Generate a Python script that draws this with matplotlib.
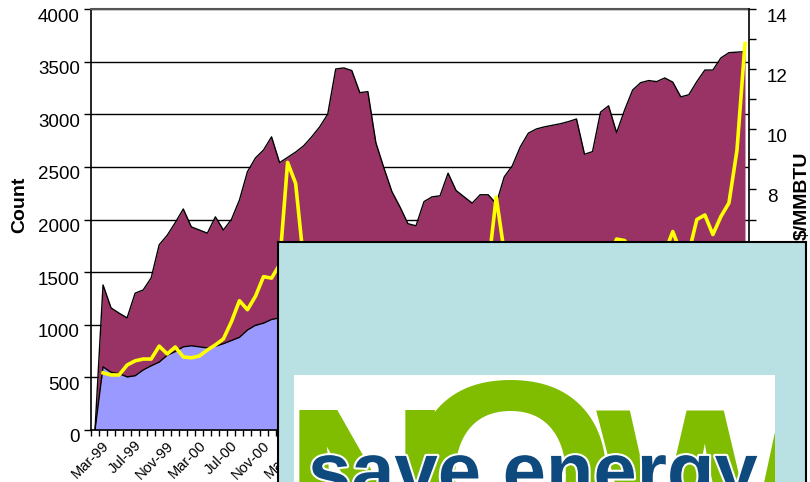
import numpy as np
import pandas as pd
import matplotlib.pyplot as plt
import matplotlib.transforms as mtransforms
import matplotlib.patheffects as pe

plt.rcParams['font.family'] = ['Liberation Sans', 'DejaVu Sans']

# monthly categories Dec-98 .. Sep-05
months = pd.date_range('1998-12-01', '2005-09-01', freq='MS').strftime('%b-%y').tolist()

# top of the stacked area (total count)
total_count = [0, 1378, 1160, 1110, 1065, 1300, 1330, 1445, 1760, 1850,
               1970, 2100, 1930, 1900, 1870, 2025, 1900, 2000, 2185, 2455,
               2585, 2660, 2785, 2540, 2590, 2640, 2700, 2785, 2880, 3000,
               3430, 3440, 3415, 3205, 3215, 2730, 2490, 2265, 2120, 1960,
               1940, 2170, 2215, 2225, 2440, 2275, 2215, 2155, 2235, 2235,
               2150, 2405, 2510, 2690, 2820, 2860, 2880, 2895, 2910, 2930,
               2955, 2620, 2645, 3020, 3080, 2825, 3040, 3230, 3300, 3320,
               3310, 3345, 3305, 3165, 3185, 3310, 3420, 3420, 3535, 3585,
               3590, 3595]

# lower (blue) series
lower_count = [0, 600, 548, 535, 505, 515, 570, 610, 645, 710,
               745, 790, 800, 790, 780, 795, 820, 850, 880, 950,
               995, 1015, 1050, 1065, 1075, 1085, 1090, 1110, 1120, 1135,
               1150, 1160, 1175, 1180, 1190, 1200, 1195, 1185, 1180, 1170,
               1165, 1175, 1180, 1195, 1205, 1210, 1225, 1230, 1245, 1250,
               1265, 1270, 1280, 1295, 1300, 1315, 1320, 1335, 1340, 1350,
               1365, 1370, 1380, 1395, 1400, 1410, 1425, 1430, 1445, 1450,
               1460, 1475, 1480, 1490, 1505, 1510, 1520, 1535, 1540, 1550,
               1560, 1570]

# gas price, $/MMBTU
price = [np.nan, 1.90, 1.83, 1.83, 2.16, 2.30, 2.36, 2.36, 2.79, 2.53,
         2.76, 2.43, 2.40, 2.46, 2.66, 2.83, 3.03, 3.60, 4.30, 4.00,
         4.45, 5.10, 5.05, 5.50, 8.90, 8.20, 5.60, 5.20, 5.20, 4.20,
         3.70, 3.10, 3.00, 2.20, 2.50, 2.30, 2.30, 2.30, 2.30, 3.00,
         3.40, 3.50, 3.30, 3.00, 3.10, 3.60, 4.10, 4.00, 4.70, 5.40,
         7.75, 5.90, 5.30, 5.80, 5.80, 5.00, 5.00, 4.60, 4.60, 4.50,
         6.00, 6.00, 5.40, 5.40, 5.70, 6.35, 6.30, 5.90, 5.40, 5.20,
         5.90, 5.90, 6.60, 5.90, 5.90, 7.00, 7.15, 6.50, 7.10, 7.55,
         9.30, 12.85]

W, H = 810, 482
fig = plt.figure(figsize=(8.1, 4.82), dpi=100)

ax = fig.add_axes([91 / W, 1 - 430 / H, 658 / W, 421 / H])
x = np.arange(len(months))
ax.fill_between(x, lower_count, total_count, color='#993366', lw=0)
ax.fill_between(x, 0, lower_count, color='#9999FF', lw=0)
ax.plot(x, total_count, color='black', lw=1)
ax.plot(x, lower_count, color='black', lw=1)
ax.set_xlim(-0.5, len(x) - 0.5)
ax.set_ylim(0, 4000)
ax.set_yticks(np.arange(0, 4001, 500))
ax.yaxis.grid(True, color='black', lw=1)
ax.set_axisbelow(True)

ax.set_xticks(x[3::4])
ax.set_xticklabels(months[3::4], rotation=45, ha='right', va='top', fontsize=10.5)
ax.set_xticks(np.arange(len(x) + 1) - 0.5, minor=True)
ax.tick_params(axis='x', which='major', length=0, pad=6)
ax.tick_params(axis='x', which='minor', length=4, width=1, direction='out')
ax.tick_params(axis='y', length=5, width=1, direction='out', labelsize=13.5, pad=3)

for s in ['left', 'bottom']:
    ax.spines[s].set_linewidth(1.2)
ax.spines['top'].set_color('#555555')
ax.spines['top'].set_linewidth(1.5)
ax.spines['right'].set_visible(False)

ax2 = ax.twinx()
ax2.plot(x, price, color='#FFFF00', lw=2.6)
ax2.set_ylim(0, 14)
ax2.set_yticks(np.arange(0, 15, 2))
ax2.set_yticks(np.arange(1, 14, 2), minor=True)
ax2.tick_params(axis='y', which='both', length=5, width=1, direction='out', labelsize=13.5, pad=8)
for s in ['left', 'top', 'bottom']:
    ax2.spines[s].set_visible(False)
ax2.spines['right'].set_linewidth(1.2)

# labels sit a little low / left of their ticks in the original
down = mtransforms.ScaledTranslation(0, -0.06, fig.dpi_scale_trans)
for lab in ax.get_yticklabels() + ax2.get_yticklabels():
    lab.set_transform(lab.get_transform() + down)
left = mtransforms.ScaledTranslation(-0.07, 0, fig.dpi_scale_trans)
for lab in ax.get_xticklabels():
    lab.set_transform(lab.get_transform() + left)

fig.text(20 / W, 1 - 205 / H, 'Count', rotation=90, fontsize=14, fontweight='bold',
         ha='center', va='center')
fig.text(802 / W, 1 - 196 / H, r'\$/MMBTU', rotation=90, fontsize=14, fontweight='bold',
         ha='center', va='center', zorder=1)

# overlay panel with logo
box = fig.add_axes([278 / W, 0, 528 / W, 240 / H])
box.set_zorder(10)
box.set_facecolor('#B9E0E3')
box.set_xticks([])
box.set_yticks([])
for s in box.spines.values():
    s.set_linewidth(1.5)
box.spines['bottom'].set_visible(False)

logo = fig.add_axes([294 / W, 0, 481 / W, 107 / H])
logo.set_zorder(11)
logo.set_facecolor('white')
logo.set_xticks([])
logo.set_yticks([])
for s in logo.spines.values():
    s.set_visible(False)
logo.set_xlim(294, 775)
logo.set_ylim(482, 375)

green = '#80BC00'
logo.text(284, 569, 'N', fontsize=166, fontweight='bold', color=green,
          ha='left', va='baseline', clip_on=True)
logo.text(511, 572, 'O', fontsize=198, fontweight='bold', color=green,
          ha='center', va='baseline', clip_on=True)
logo.text(596, 569, 'W', fontsize=166, fontweight='bold', color=green,
          ha='left', va='baseline', clip_on=True)
logo.text(308, 497, 'save energy', fontsize=56, fontweight='bold', color='#0E4A7E',
          ha='left', va='baseline', clip_on=True,
          path_effects=[pe.withStroke(linewidth=3, foreground='white')])

fig.savefig('out.png', dpi=100)
